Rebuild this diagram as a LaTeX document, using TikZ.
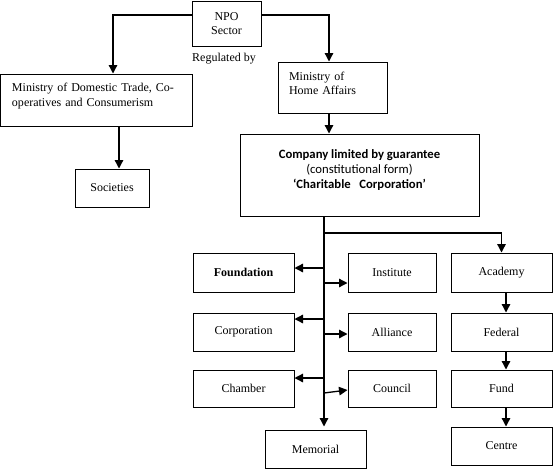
\documentclass[tikz,border=0pt]{standalone}
\usepackage{fontspec}
\setmainfont{Liberation Serif}
\newfontfamily\calib{Carlito}
\usetikzlibrary{arrows.meta}
\begin{document}
\begin{tikzpicture}[x=1pt,y=-1pt,
  box/.style={draw,line width=1pt,inner sep=0pt,align=center,font=\fontsize{12}{14.5}\selectfont},
  arr/.style={line width=1.3pt,-{Triangle[length=8.5pt,width=8.5pt]}},
  ln/.style={line width=1.3pt}]
\useasboundingbox (0,0) rectangle (553,469);
% top
\node[box,minimum width=69,minimum height=45] (npo) at (226.5,23.5) {NPO\\Sector};
\node[font=\fontsize{12}{14.5}\selectfont] (reg) at (224,59) {Regulated by};
\node[box,minimum width=192,minimum height=52,text width=168,align=left] (mdt) at (96,100) {Ministry of Domestic Trade, Co-\\operatives and Consumerism\\[-4pt]\mbox{}};
\node[box,minimum width=109,minimum height=51,text width=87,align=left] (mha) at (332.5,87.5) {Ministry of\\Home Affairs\\[-6pt]\mbox{}};
\node[box,minimum width=74,minimum height=38] (soc) at (112,188) {Societies};
\node[box,minimum width=239,minimum height=82,font=\calib\fontsize{12.7}{15}\selectfont] (comp) at (359.5,175)
  {\textbf{Company limited by guarantee}\\(constitutional form)\\\textbf{‘Charitable\ \ \ Corporation’}\\[-4pt]\mbox{}};
% grid
\node[box,minimum width=101,minimum height=39] (found) at (243.5,272.5) {\textbf{Foundation}};
\node[box,minimum width=88,minimum height=39] (inst) at (392,272.5) {Institute};
\node[box,minimum width=101,minimum height=39] (acad) at (501.5,272.5) {Academy};
\node[box,minimum width=101,minimum height=38] (corp) at (243.5,332) {Corporation};
\node[box,minimum width=88,minimum height=38] (alli) at (392,332) {Alliance};
\node[box,minimum width=101,minimum height=38] (fed) at (501.5,332) {Federal};
\node[box,minimum width=101,minimum height=37] (cham) at (243.5,388.5) {Chamber};
\node[box,minimum width=88,minimum height=37] (coun) at (392,388.5) {Council};
\node[box,minimum width=101,minimum height=37] (fund) at (501.5,388.5) {Fund};
\node[box,minimum width=101,minimum height=38] (mem) at (315.5,449) {Memorial};
\node[box,minimum width=101,minimum height=38] (cent) at (501.5,446) {Centre};
% connectors top
\draw[arr] ([yshift=8.5]npo.west) -| ([xshift=17]mdt.north);
\draw[arr] ([yshift=8.5]npo.east) -| ([xshift=-3.5]mha.north);
\draw[arr] ([xshift=23]mdt.south) -- ([xshift=7]soc.north);
\draw[arr] ([xshift=-3.5]mha.south) -- ([xshift=-30.5]comp.north);
% trunk
\coordinate (b0) at (324,233);
\draw[arr] ([xshift=-35.5]comp.south) -- ([xshift=8.5,yshift=3]mem.north);
\draw[arr] (b0) -| (acad.north);
\coordinate (b1) at (324,268);
\coordinate (b2) at (324,283);
\coordinate (b3) at (324,319);
\coordinate (b4) at (324,334);
\coordinate (b5) at (324,378);
\coordinate (b6) at (324,393);
\draw[arr] (b1) -- (b1 -| found.east);
\draw[arr] (b2) -- (b2 -| inst.west);
\draw[arr] (b3) -- (b3 -| corp.east);
\draw[arr] (b4) -- (b4 -| alli.west);
\draw[arr] (b5) -- (b5 -| cham.east);
\draw[arr] (b6) -- ([yshift=-1.5]coun.west);
% right column
\draw[arr] ([xshift=4.5]acad.south) -- ([xshift=4.5]fed.north);
\draw[arr] ([xshift=4.5]fed.south) -- ([xshift=4.5]fund.north);
\draw[arr] ([xshift=4.5]fund.south) -- ([xshift=4.5]cent.north);
\end{tikzpicture}
\end{document}
